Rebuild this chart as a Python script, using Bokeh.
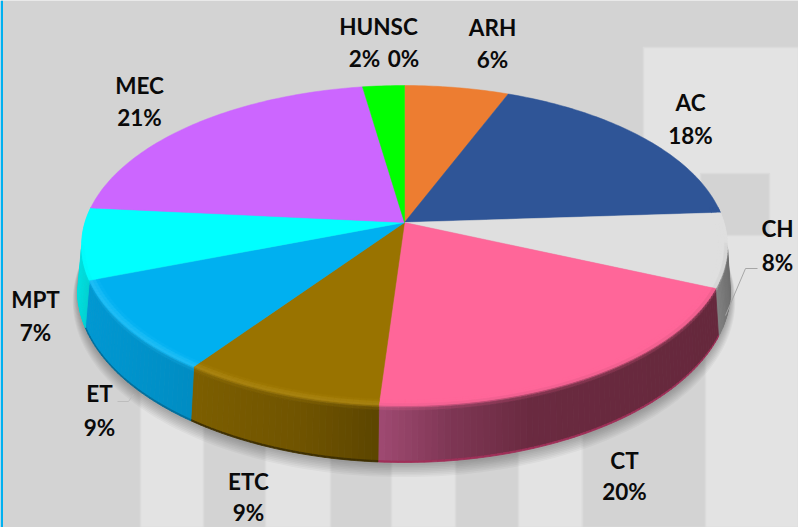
import numpy as np
from bokeh.plotting import figure
from bokeh.embed import file_html
from bokeh.resources import INLINE
from bokeh.core.properties import value

# ---- data (clockwise from 12 o'clock)
categories = ["ARH", "AC", "CH", "CT", "ETC", "ET", "MPT", "MEC", "HUNSC", ""]
shares = [6.0, 18.0, 7.5, 19.6, 8.8, 9.4, 7.2, 21.1, 2.4, 0.0]
pct_labels = ["6%", "18%", "8%", "20%", "9%", "9%", "7%", "21%", "2%", "0%"]

# ---- styles
face_colors = ["#ED7D31", "#2F5597", "#DFDFDF", "#FF6699", "#997300",
               "#00B0F0", "#00FFFF", "#CC66FF", "#00FF00", "#7F7F7F"]
highlight = {4: "#AC8612", 5: "#22C0F8"}
lip_colors = {3: "#A02E58", 4: "#3E2F00", 5: "#006E9C"}
wall_stops = {
    2: [(700, "#9A9A9A"), (727, "#6E6E6E")],
    3: [(378, "#A04A72"), (450, "#7E3654"), (530, "#6A2A40"), (715, "#66283C")],
    4: [(197, "#7C5E00"), (300, "#705400"), (378, "#5C4500")],
    5: [(90, "#0098D2"), (197, "#008CC2")],
    6: [(77, "#00E6E6"), (90, "#00D0D0")],
}
name_x = [492, 690, 777, 624, 248, 99, 35, 139, 378]
name_y = [27, 102, 228, 460, 481, 393, 299, 85, 26]
pct_x = [492, 690, 777, 624, 248, 99, 35, 139, 364, 403]
pct_y = [59, 135, 262, 491, 512, 427, 332, 117, 58, 58]

W, H = 798, 527
AX, AY = 404.0, 222.0     # apex of the pie on the page
C, A, D = 0.14375, -124.78, 319.5   # perspective of the top disc
BX, BY, BRX, BRY = 403.5, 290.0, 326.5, 172.0   # outline of the disc's underside
TRX = D / np.sqrt(1 - C * C)


def proj(theta, r=1.0):
    u, v = r * np.sin(theta), r * np.cos(theta)
    w = 1 + C * v
    return AX + D * u / w, (AY + A * v) / w


def under(theta):
    x = proj(theta)[0]
    xb = BX + (x - AX) * BRX / TRX
    q = np.clip((xb - BX) / BRX, -1, 1)
    return xb, BY + BRY * np.sqrt(1 - q * q)


def wall_pt(theta, f):
    x0, y0 = proj(theta)
    x1, y1 = under(theta)
    return x0 + (x1 - x0) * f, y0 + (y1 - y0) * f


def rgb(h):
    return np.array([int(h[i:i + 2], 16) for i in (1, 3, 5)], float)


def hexa(c):
    return "#%02x%02x%02x" % tuple(int(round(x)) for x in np.clip(c, 0, 255))


def wall_color(i, x):
    st = wall_stops.get(i)
    if st is None:
        return rgb("#808080")
    xs = [s[0] for s in st]
    cs = np.array([rgb(s[1]) for s in st])
    return np.array([np.interp(x, xs, cs[:, k]) for k in range(3)])


def shade(i, x, t):
    face = rgb(face_colors[i])
    hl = rgb(highlight.get(i, face_colors[i]))
    wall = wall_color(i, x)
    if t > 1:   # the thin lip along the bottom edge
        return rgb(lip_colors[i]) if i in lip_colors else wall
    if t < 0.4:
        return face + (hl - face) * t / 0.4
    return hl + (wall - hl) * (t - 0.4) / 0.6


total = sum(shares)
edges = 2 * np.pi * np.concatenate([[0], np.cumsum(shares)]) / total

p = figure(width=798, height=527, x_range=(0, W), y_range=(H, 0),
           output_backend="svg", toolbar_location=None,
           x_axis_location=None, y_axis_location=None, min_border=0)
p.xgrid.visible = False
p.ygrid.visible = False
p.outline_line_color = None
p.background_fill_color = "#D3D3D3"
p.border_fill_color = "#D3D3D3"

# ---- backdrop
lights = [(140, 203, 300), (265, 330, 300), (391, 455, 300), (518, 582, 300), (643, 798, 47)]
p.quad(left=[a for a, _, _ in lights], right=[b for _, b, _ in lights],
       top=[t for _, _, t in lights], bottom=[H] * len(lights),
       fill_color="#E3E3E3", line_color="#DBDBDB", line_width=1.5)
p.quad(left=[582, 700], right=[705, 769], top=[300, 173], bottom=[H, 235],
       fill_color="#D3D3D3", line_color="#DBDBDB", line_width=1.5)
p.quad(left=[0], right=[2.5], top=[0], bottom=[H], fill_color="#00B0F0", line_color=None)

# ---- soft shadow under the disc
th = np.linspace(0, 2 * np.pi, 240)
for k in range(1, 9):
    p.patch(BX + (BRX + 0.6 * k) * np.sin(th), BY + 1.0 + 1.2 * k + (BRY + 0.5 * k) * np.cos(th),
            fill_color="#000000", fill_alpha=0.035, line_color=None)

# ---- side wall
front_a, front_b = np.arccos(-C), 2 * np.pi - np.arccos(-C)
wall_levels = [(0, 0.55), (0.04, 0.8), (0.09, 1.0), (0.975, 1.0), (1.0, 1.01)]
xs, ys, cols = [], [], []
for i in range(len(shares)):
    a, b = max(edges[i], front_a), min(edges[i + 1], front_b)
    if b <= a:
        continue
    n = max(1, int((b - a) / np.radians(1.0)))
    g = np.linspace(a, b, n + 1)
    for t0, t1 in zip(g[:-1], g[1:]):
        mx = proj((t0 + t1) / 2)[0]
        for (d0, c0), (d1, c1) in zip(wall_levels[:-1], wall_levels[1:]):
            x0, y0 = wall_pt(t0, d0); x1, y1 = wall_pt(t1, d0)
            x2, y2 = wall_pt(t1, d1); x3, y3 = wall_pt(t0, d1)
            xs.append([x0, x1, x2, x3]); ys.append([y0, y1, y2, y3])
            cols.append(hexa(shade(i, mx, c1 if c1 > 1 else (c0 + c1) / 2)))
p.patches(xs, ys, fill_color=cols, line_color=cols, line_width=0.8)

# ---- top face slices
for i in range(len(shares)):
    if shares[i] <= 0:
        continue
    g = np.linspace(edges[i], edges[i + 1], max(2, int(np.degrees(edges[i + 1] - edges[i])) + 2))
    x, y = proj(g)
    p.patch(np.r_[AX, x], np.r_[AY, y], fill_color=face_colors[i],
            line_color=face_colors[i], line_width=0.5)

# ---- rounded rim on the face
ring_levels = [(0.972, 0.0), (0.982, 0.15), (0.991, 0.35), (1.0, 0.55)]
taper = np.radians(14)
xs, ys, cols = [], [], []
for i in range(len(shares)):
    a, b = max(edges[i], front_a - taper), min(edges[i + 1], front_b + taper)
    if b <= a or shares[i] <= 0:
        continue
    n = max(1, int((b - a) / np.radians(1.0)))
    g = np.linspace(a, b, n + 1)
    for t0, t1 in zip(g[:-1], g[1:]):
        tm = (t0 + t1) / 2
        s = np.clip(min(tm - front_a + taper, front_b + taper - tm) / taper, 0, 1)
        mx = proj(tm)[0]
        for (r0, c0), (r1, c1) in zip(ring_levels[:-1], ring_levels[1:]):
            x0, y0 = proj(t0, r0); x1, y1 = proj(t1, r0)
            x2, y2 = proj(t1, r1); x3, y3 = proj(t0, r1)
            xs.append([x0, x1, x2, x3]); ys.append([y0, y1, y2, y3])
            cols.append(hexa(shade(i, mx, s * (c0 + c1) / 2)))
p.patches(xs, ys, fill_color=cols, line_color=cols, line_width=0.5)

# ---- leader lines
p.line([117, 128, 133], [401, 401, 394], line_color="#BDBDBD", line_width=1)
p.line([757, 745, 725], [268, 268, 315], line_color="#A6A6A6", line_width=1)

# ---- labels
font = dict(text_font=value("Lato"), text_font_style="bold", text_font_size="22.5px",
            text_color="#0A0A0A", text_align="center", text_baseline="middle")
p.text(name_x, name_y, text=categories[:9], **font)
p.text(pct_x, pct_y, text=pct_labels, **font)

open("out.html", "w").write(file_html(p, INLINE))
